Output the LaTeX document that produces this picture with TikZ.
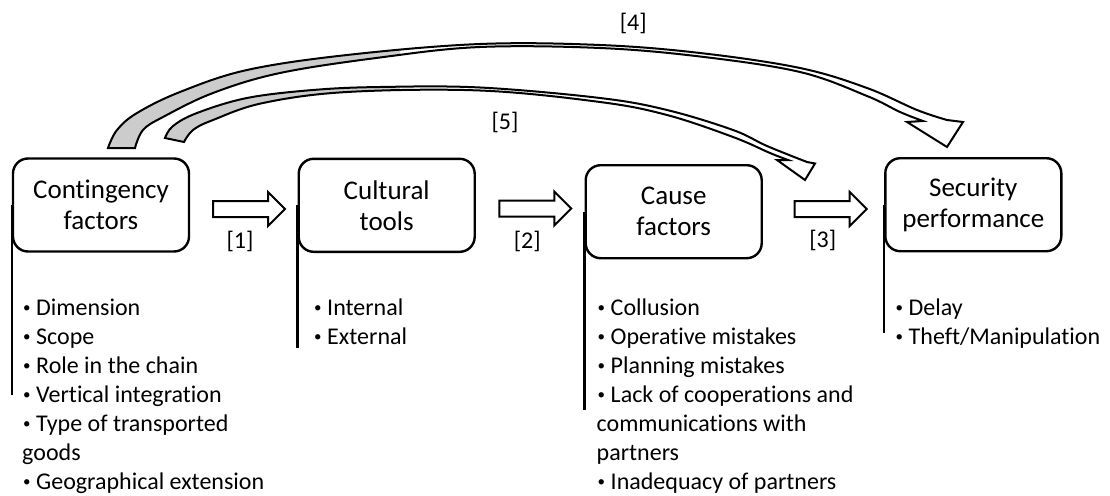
\documentclass[tikz,border=0pt]{standalone}
\usepackage{fontspec}
\setmainfont{Carlito}[Ligatures=NoCommon]
\usetikzlibrary{shapes.arrows}

% small list bullet followed by its gap
\newcommand{\itm}{\makebox[14pt][l]{\hspace{1pt}\raisebox{3pt}{\fontsize{15}{15}\selectfont\textbullet}}}

% Outline of the long curved arrow from the first box to the last one
\newcommand{\BandFour}{plot[smooth,tension=.6] coordinates {(108,148) (117,130) (137,113) (180,92) (247,70) (347,55) (480,44) (600,45) (700,53) (800,68) (867,88) (917,110) (947,120)}
  -- (963,122) -- (947,147) -- (907,122) -- (923,121)
  -- plot[smooth,tension=.6] coordinates {(923,121) (900,112) (867,96) (800,72) (700,56.5) (600,48) (480,47) (380,57.5) (280,73) (213,93) (163,117) (143,130) (135,148)} -- cycle}

% Outline of the shorter curved arrow from the first box to the third one
\newcommand{\BandFive}{plot[smooth,tension=.6] coordinates {(165,138) (173,126) (197,113) (247,98) (313,90) (380,87) (480,87.5) (600,98) (667,110) (733,130) (767,146) (807,162)}
  -- (815,163.5) -- (805,180) -- (777,160) -- (788,160)
  -- plot[smooth,tension=.6] coordinates {(788,160) (770,153) (733,137) (667,115) (600,102) (480,90.5) (347,92) (263,103) (213,120) (193,130) (184,142)} -- cycle}

\tikzset{
  box/.style={draw, line width=2.4pt, rounded corners=15pt, minimum width=176pt,
    minimum height=93pt, align=center, inner sep=0pt, font=\fontsize{27}{31}\selectfont},
  stem/.style={line width=2.6pt},
  blockarrow/.style={single arrow, draw, line width=2pt, minimum height=72pt,
    inner xsep=0pt, inner ysep=7pt, single arrow head extend=9pt,
    single arrow head indent=0pt},
  tag/.style={inner sep=0pt, font=\fontsize{24}{29}\selectfont},
  itemlist/.style={inner sep=0pt, anchor=base west, font=\fontsize{24}{29}\selectfont},
  bandline/.style={line width=2pt, line join=miter},
  bandshade/.style={fill=black!20},
}

\begin{document}
\begin{tikzpicture}[x=1pt,y=-1pt]
\useasboundingbox (0,0) rectangle (1110,495);

% main boxes
\node[box] (b1) at (101,205)   {Contingency\\factors};
\node[box] (b2) at (386.7,205.3) {Cultural\\tools};
\node[box] (b3) at (673.7,211.7) {Cause\\factors};
\node[box] (b4) at (973.3,204.7) {Security\\performance};

% stems under the boxes
\coordinate (e1) at (0,395);
\coordinate (e2) at (0,348.3);
\coordinate (e3) at (0,410);
\coordinate (e4) at (0,333.3);
\draw[stem] (b1.west) -- (b1.west |- e1);
\draw[stem] (b2.west) -- (b2.west |- e2);
\draw[stem] (b3.west) -- (b3.west |- e3);
\draw[stem] (b4.west) -- (b4.west |- e4);

% item lists
\node[itemlist] (l1) at (22,315) {\parbox[t]{320pt}{\raggedright
  \itm Dimension\\
  \itm Scope\\
  \itm Role in the chain\\
  \itm Vertical integration\\
  \itm Type of transported\\
  goods\\
  \itm Geographical extension}};
\node[itemlist] (l2) at (313,315) {\parbox[t]{200pt}{\raggedright
  \itm Internal\\
  \itm External}};
\node[itemlist] (l3) at (596.5,315) {\parbox[t]{320pt}{\raggedright
  \itm Collusion\\
  \itm Operative mistakes\\
  \itm Planning mistakes\\
  \itm Lack of cooperations and\\
  communications with\\
  partners\\
  \itm Inadequacy of partners}};
\node[itemlist] (l4) at (894.5,315) {\parbox[t]{220pt}{\raggedright
  \itm Delay\\
  \itm Theft/Manipulation}};

% block arrows between the boxes
\node[blockarrow] (a1) at (245,209) {};
\node[blockarrow] (a2) at (531.3,208.5) {};
\node[blockarrow] (a3) at (826.7,209) {};
\node[tag] (t1) at (240,241.7) {[1]};
\node[tag] (t2) at (527.3,241) {[2]};
\node[tag] (t3) at (822.7,240) {[3]};

% curved arrows over the top
\begin{scope}
  \clip (0,0) rectangle (400,495);
  \fill[bandshade] \BandFour;
  \fill[bandshade] \BandFive;
\end{scope}
\draw[bandline] \BandFour;
\draw[bandline] \BandFive;
\node[tag] (t4) at (633.3,23.3) {[4]};
\node[tag] (t5) at (505,122) {[5]};
\end{tikzpicture}
\end{document}
